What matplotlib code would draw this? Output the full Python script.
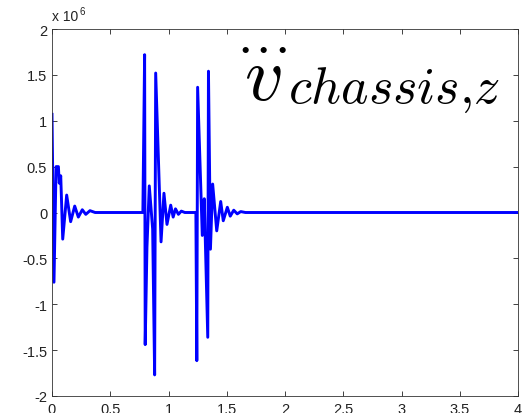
import numpy as np
import matplotlib.pyplot as plt
from matplotlib.ticker import FuncFormatter

# chassis vertical acceleration (units of 1e6)
t_burst1 = [0.0, 0.017, 0.035, 0.055, 0.062, 0.075, 0.092, 0.126, 0.16,
            0.195, 0.226, 0.26, 0.29, 0.326, 0.37]
a_burst1 = [1.07, -0.76, 0.5, 0.5, 0.32, 0.4, -0.29, 0.19, -0.10,
            0.07, -0.05, 0.03, -0.02, 0.02, 0.0]

t_burst2 = [0.78, 0.795, 0.80, 0.815, 0.835, 0.864, 0.881, 0.89, 0.936,
            0.961, 0.987, 1.019, 1.04, 1.06, 1.085, 1.11, 1.14]
a_burst2 = [0.0, 1.72, -1.44, -0.38, 0.29, -0.18, -1.77, 1.52, -0.32,
            0.21, -0.13, 0.08, -0.05, 0.04, -0.02, 0.015, 0.0]

t_burst3 = [1.235, 1.243, 1.25, 1.29, 1.307, 1.337, 1.343, 1.36, 1.379,
            1.414, 1.448, 1.47, 1.505, 1.53, 1.56, 1.59, 1.62, 1.66]
a_burst3 = [0.0, -1.615, 1.365, -0.25, 0.15, -1.36, 1.54, -0.40, 0.31,
            -0.20, 0.12, -0.09, 0.057, -0.04, 0.025, -0.015, 0.01, 0.0]

t_end = [4.0]
a_end = [0.0]

xticks = [0, 0.5, 1, 1.5, 2, 2.5, 3, 3.5, 4]
yticks = [-2, -1.5, -1, -0.5, 0, 0.5, 1, 1.5, 2]

t = np.array(t_burst1 + t_burst2 + t_burst3 + t_end)
acc = np.array(a_burst1 + a_burst2 + a_burst3 + a_end) * 1e6

plt.rcParams['font.family'] = ['Liberation Sans', 'DejaVu Sans']
plt.rcParams['mathtext.fontset'] = 'cm'

W, H = 524, 414
fig = plt.figure(figsize=(W/100, H/100), dpi=100)
ax = fig.add_axes([52/W, 17/H, 466/W, 367/H])
ax.plot(t, acc, color='#0000ff', linewidth=2.1)

ax.set_xlim(0, 4)
ax.set_ylim(-2e6, 2e6)
ax.set_xticks(xticks)
ax.set_yticks([y*1e6 for y in yticks])
ax.xaxis.set_major_formatter(FuncFormatter(lambda v, p: f'{v:g}'))
ax.yaxis.set_major_formatter(FuncFormatter(lambda v, p: f'{v/1e6:g}'))
ax.tick_params(direction='in', top=True, right=True, length=3.5,
               width=0.6, labelsize=10.5, colors='#222222')
ax.tick_params(axis='x', pad=4)
for sp in ax.spines.values():
    sp.set_linewidth(0.6)
    sp.set_color('#333333')

# MATLAB-style exponent label
ax.text(0.0, 1.015, 'x 10', transform=ax.transAxes, fontsize=10,
        ha='left', va='bottom', color='#222222')
ax.text(0.058, 1.035, '6', transform=ax.transAxes, fontsize=7,
        ha='left', va='bottom', color='#222222')

# label: triple-dot v with subscript, placed in figure pixels
fig.text(244/W, 1 - 100/H, r'$v$', fontsize=55, ha='left', va='baseline')
fig.text(288/W, 1 - 103/H, r'$chassis{,}z$', fontsize=37.5,
         ha='left', va='baseline')
for xd in (243, 261, 280):
    fig.text(xd/W, 1 - 48/H, r'$\cdot$', fontsize=40,
             ha='center', va='center')

fig.savefig('out.png', dpi=100)
